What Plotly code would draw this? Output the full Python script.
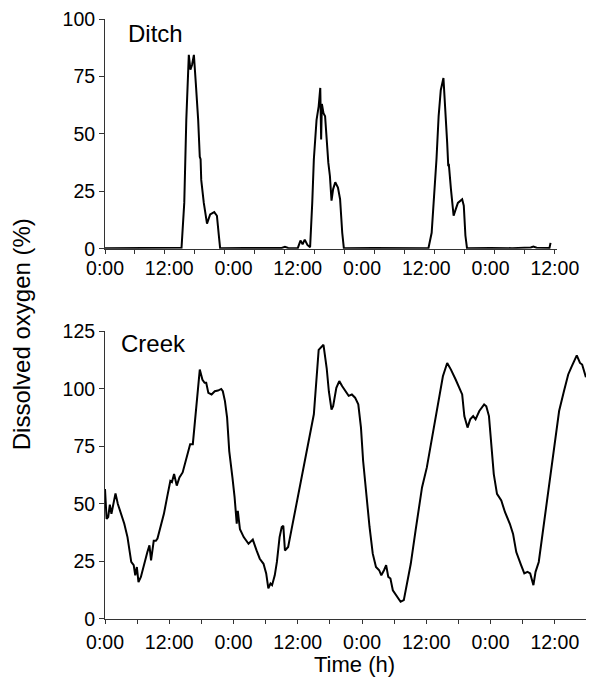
import plotly.graph_objects as go

# ---------------- data (hours, % dissolved oxygen) ----------------
ditch_h = [0, 5, 10, 14.0, 14.29, 14.8, 15.18, 15.65, 15.95, 16.25, 16.6, 16.96, 17.4, 17.7, 17.85, 17.97,
           18.45, 19.05, 19.64, 20.4, 20.9, 21.25, 21.5, 26, 30, 33.0, 33.6, 34.2, 36.0,
           36.5, 36.9, 37.3, 37.8, 38.3, 38.7, 39.0, 39.5, 39.9, 40.2, 40.36, 40.5, 40.8, 41.1,
           41.4, 41.7, 42.0, 42.3, 42.6, 43.0, 43.5, 43.9, 44.3, 44.6, 50, 55, 60.4,
           61.0, 61.5, 61.9, 62.3, 62.7, 63.2, 63.5, 63.9, 64.1, 64.2, 64.6, 65.1, 65.5, 65.9,
           66.7, 67.0, 67.3, 67.6, 72, 76, 79.5, 80.0, 80.6, 82.4, 83.0, 83.2]
ditch_v = [0.3, 0.3, 0.3, 0.3, 0.5, 20, 56, 84.4, 78, 80, 84.4, 72, 56, 40, 39, 30,
           20, 11, 15, 16, 14.4, 6, 0.3, 0.4, 0.3, 0.4, 0.9, 0.4, 0.3,
           3.6, 2, 4, 1.7, 0.7, 20, 39, 56, 62, 70, 47.6, 63, 59, 57.7,
           46, 37.5, 31.7, 21, 26, 29, 26.7, 21.6, 7, 0.3, 0.4, 0.3, 0.3,
           7, 23, 39, 57.7, 69, 74.3, 63.5, 46, 36, 37, 26, 14.4, 17.3, 20,
           21.6, 18.8, 5.8, 0.3, 0.4, 0.3, 0.6, 1.0, 0.5, 0.3, 0.4, 2.6]

creek_h = [0, 0.3, 0.6, 0.9, 1.2, 1.5, 1.96, 2.4, 3.0, 3.6, 4.2, 4.64, 4.9, 5.36, 5.65, 5.95, 6.25,
           6.7, 7.3, 7.9, 8.3, 8.6, 9.1, 9.5, 9.8, 10.4, 11.0, 11.6, 12.2, 12.5, 12.9, 13.4, 13.9,
           14.5, 15.2, 15.9, 16.4, 16.8, 17.3, 17.7, 18.2, 18.6, 18.9, 19.3, 19.9, 20.5, 21.1,
           21.7, 22.0, 22.4, 22.8, 23.2, 23.8, 24.2, 24.6, 24.8, 25.2, 25.9, 26.8, 27.6, 28.3,
           28.9, 29.6, 30.1, 30.5, 30.9, 31.2, 31.7, 32.1, 32.6, 33.0, 33.3, 33.6, 34.2, 34.8,
           35.4, 36.3, 37.2, 38.1, 39.0, 39.9, 40.8, 41.4, 41.8, 42.3, 42.6, 43.2, 43.75, 44.3,
           44.9, 45.5, 46.1, 46.7, 47.3, 47.8, 48.2, 48.8, 49.4, 50.0, 50.6, 51.2, 51.6, 52.1,
           52.5, 52.9, 53.3, 53.75, 54.5, 55.2, 55.8, 56.25, 57.1, 58.0, 59.2, 60.1, 61.3, 62.2,
           63.1, 63.9, 64.6, 65.5, 66.1, 66.7, 67.1, 67.7, 68.2, 68.75, 69.2, 69.9, 70.8, 71.2,
           71.7, 72.2, 72.6, 73.2, 74.0, 74.7, 75.6, 76.2, 76.8, 77.7, 78.3, 78.9, 79.4, 80.0,
           80.4, 81.0, 81.7, 82.7, 83.6, 84.8, 85.7, 86.5, 87.2, 88.1, 88.7, 89.1, 89.8]
creek_v = [56.5, 43.5, 44.3, 49.7, 45.7, 49.3, 54.6, 50, 45.7, 41.4, 35.6, 29.8, 24.8, 23.4, 19, 22.6, 16,
           18.3, 24, 29, 32, 25.5, 34, 34, 35, 40, 45.7, 53, 60, 59.5, 63, 58, 61.5,
           63.7, 70, 76, 76, 86, 97.6, 108.4, 104, 102.7, 102.7, 98.3, 97.6, 99, 99.3,
           100, 99, 94.7, 87.5, 73, 61.5, 53, 41.4, 47, 39, 35.6, 32.7, 34.5, 29.8,
           26.2, 24, 19.8, 13.3, 15.4, 14.7, 19, 24.8, 35.6, 40, 40.5, 29.8, 31.3, 38.5,
           45.7, 57.2, 67.3, 77.4, 89, 117, 119.2, 109, 99, 91, 92.5, 100.5, 103.4, 101.2,
           99, 97, 97.6, 96.2, 93.3, 83.2, 68.8, 52.9, 40, 28.4, 22.6, 21.2, 19, 21.2,
           23.4, 18.3, 17.6, 12.5, 9.7, 7.5, 8.2, 14, 24, 38.5, 57.2, 65.9, 81.7, 94.7,
           105.5, 111.3, 108.4, 104, 100.5, 97.6, 88.2, 83.2, 86.8, 88.2, 86.8, 90.4, 93.3, 92.5,
           88.2, 76, 63, 54.4, 51.5, 46.4, 41.4, 37, 29.1, 23.4, 19.8, 20.5, 19.8, 14.7,
           20.5, 24.8, 37, 54.4, 70.2, 90.4, 99, 106.3, 110, 114.6, 111.3, 110.6, 105.1]

time_ticks = [0, 12, 24, 36, 48, 60, 72, 84]
time_labels = ["0:00", "12:00", "0:00", "12:00", "0:00", "12:00", "0:00", "12:00"]
creek_tick_hours = [0, 6, 12, 18, 24, 30, 36, 42, 48, 54, 60, 66, 72, 78, 84]
ditch_yticks = [0, 25, 50, 75, 100]
creek_yticks = [0, 25, 50, 75, 100, 125]

FONT = "Liberation Sans, Arial, Helvetica, sans-serif"
INK = "#000000"
AX = "#333333"

fig = go.Figure()
fig.add_trace(go.Scatter(x=ditch_h, y=ditch_v, mode="lines", xaxis="x", yaxis="y",
                         line=dict(color=INK, width=2), showlegend=False))
fig.add_trace(go.Scatter(x=creek_h, y=creek_v, mode="lines", xaxis="x2", yaxis="y2",
                         line=dict(color=INK, width=2), showlegend=False))

# page has an 8px body margin, so the figure is 8px smaller and offset
OFF = 8
W, H = 608 - OFF, 683 - OFF
L, R, T, B = 105 - OFF, 0, 16 - OFF, 64
pw, ph = W - L - R, H - T - B
pxh = 5.6  # pixels per hour

def ypaper(page_y):
    return min(1.0, (H - B - (page_y - OFF)) / ph)

def xpaper(page_x):
    return (page_x - OFF - L) / pw

common_x = dict(showline=True, linecolor=AX, linewidth=1, showgrid=False, zeroline=False,
                ticklabeloverflow="allow",
                tickfont=dict(family=FONT, size=19.5, color=INK), ticklabelstandoff=2)
common_y = dict(showline=True, linecolor=AX, linewidth=1, showgrid=False, zeroline=False,
                ticklabeloverflow="allow",
                ticks="outside", ticklen=5, tickcolor=AX, tickwidth=1,
                tickfont=dict(family=FONT, size=19.5, color=INK))

fig.update_layout(
    width=W, height=H, margin=dict(l=L, r=R, t=T, b=B),
    paper_bgcolor="white", plot_bgcolor="white",
    xaxis=dict(domain=[0, 473 / pw], range=[0, 473 / pxh], anchor="y",
               tickvals=time_ticks, ticktext=time_labels, ticks="",
               minor=dict(ticks="outside", ticklen=4, tickcolor=AX, tickwidth=1, tick0=0, dtick=5.595),
               **common_x),
    yaxis=dict(domain=[ypaper(247), ypaper(16)], range=[0, 100], anchor="x",
               tickvals=ditch_yticks, **common_y),
    xaxis2=dict(domain=[0, 1], range=[0, pw / pxh], anchor="y2",
                tickvals=creek_tick_hours,
                ticktext=[time_labels[i // 2] if i % 2 == 0 else "" for i in range(len(creek_tick_hours))],
                ticks="outside", ticklen=4, tickcolor=AX, tickwidth=1,
                **common_x),
    yaxis2=dict(domain=[0, ypaper(330)], range=[0, 125], anchor="x2",
                tickvals=creek_yticks, **common_y),
)

fig.add_annotation(text="Ditch", xref="paper", yref="paper", x=xpaper(127), y=ypaper(31),
                   xanchor="left", yanchor="middle", showarrow=False,
                   font=dict(family=FONT, size=24, color=INK))
fig.add_annotation(text="Creek", xref="paper", yref="paper", x=xpaper(120), y=ypaper(342),
                   xanchor="left", yanchor="middle", showarrow=False,
                   font=dict(family=FONT, size=24, color=INK))
fig.add_annotation(text="Dissolved oxygen (%)", xref="paper", yref="paper", x=xpaper(18), y=ypaper(333),
                   xanchor="center", yanchor="middle", textangle=-90, showarrow=False,
                   font=dict(family=FONT, size=24, color=INK))
fig.add_annotation(text="Time (h)", xref="paper", yref="paper", x=xpaper(366), y=ypaper(665),
                   xanchor="center", yanchor="middle", showarrow=False,
                   font=dict(family=FONT, size=22, color=INK))

fig.write_html("out.html")
